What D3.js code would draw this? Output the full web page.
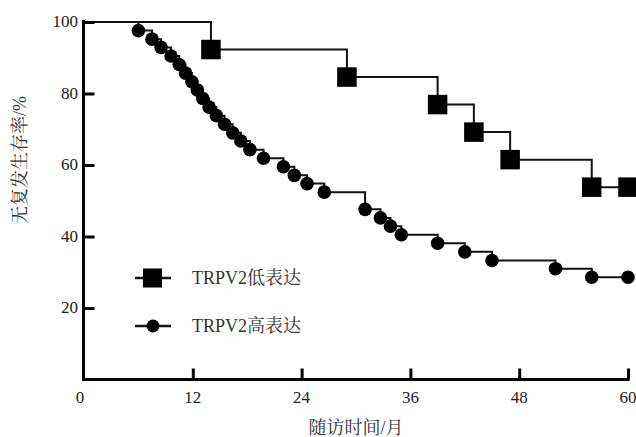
<!DOCTYPE html>
<html>
<head>
<meta charset="utf-8">
<title></title>
<script src="https://d3js.org/d3.v7.min.js"></script>
<style>
    body{
        margin:0;
        background:#fff;
    }
    svg{
        display:block;
    }
    .lbl{
        font-family:"Liberation Serif","Noto Serif CJK SC","Noto Sans CJK SC",serif;
        fill:#222;
    }
    .cjk{
        fill:#333;
    }
</style>
</head>
<body>
<script>
// follow-up months / survival (%)
var lowTimes = [14, 29, 39, 43, 47, 56];
var lowSurv  = [92.3, 84.6, 76.9, 69.2, 61.5, 53.8];

var highTimes = [6, 7.5, 8.5, 9.6, 10.5, 11.2, 11.9, 12.5, 13.1, 13.8, 14.6, 15.5, 16.4, 17.3, 18.3,
                 19.8, 22.0, 23.2, 24.6, 26.5, 31.0, 32.7, 33.8, 35.0, 39.0, 42.0, 45.0, 52.0, 56.0];
var highSurv  = [97.6, 95.2, 92.9, 90.5, 88.1, 85.7, 83.3, 81.0, 78.6, 76.2, 73.8, 71.4, 69.0, 66.7, 64.3,
                 61.9, 59.5, 57.1, 54.8, 52.4, 47.6, 45.2, 42.9, 40.5, 38.1, 35.7, 33.3, 31.0, 28.6];

var endTime = 60;
var xTicks = [0, 12, 24, 36, 48, 60];
var yTicks = [20, 40, 60, 80, 100];
var seriesNames = ["TRPV2低表达", "TRPV2高表达"];

var W = 636, H = 437;
var svg = d3.select("body").append("svg")
    .attr("width", W)
    .attr("height", H);

var x = d3.scaleLinear().domain([0, 60]).range([84, 628]);
var y = d3.scaleLinear().domain([0, 100]).range([379.5, 22]);

function curve(times, surv){
    var pts = [[0, 100]];
    for (var i = 0; i < times.length; i++) pts.push([times[i], surv[i]]);
    pts.push([endTime, surv[surv.length - 1]]);
    return pts;
}
var lowPts = curve(lowTimes, lowSurv);
var highPts = curve(highTimes, highSurv);

var line = d3.line()
    .x(function(d){ return x(d[0]); })
    .y(function(d){ return y(d[1]); })
    .curve(d3.curveStepAfter);

// step lines
svg.append("path").attr("d", line(lowPts))
    .attr("fill", "none").attr("stroke", "#111").attr("stroke-width", 2);
svg.append("path").attr("d", line(highPts))
    .attr("fill", "none").attr("stroke", "#111").attr("stroke-width", 2);

// markers
var sq = 19.5;
svg.selectAll(".sq").data(lowPts.slice(1))
    .enter().append("rect")
    .attr("x", function(d){ return x(d[0]) - sq/2; })
    .attr("y", function(d){ return y(d[1]) - sq/2; })
    .attr("width", sq).attr("height", sq)
    .attr("fill", "#000");

svg.selectAll(".dot").data(highPts.slice(1))
    .enter().append("circle")
    .attr("cx", function(d){ return x(d[0]); })
    .attr("cy", function(d){ return y(d[1]); })
    .attr("r", 6.8)
    .attr("fill", "#000");

// axes
var yAxis = d3.axisRight(y).tickValues(yTicks).tickSize(11).tickFormat("");
var gy = svg.append("g").attr("transform", "translate(83.5,0)").call(yAxis);
var xAxis = d3.axisTop(x).tickValues(xTicks.slice(1)).tickSize(11).tickFormat("");
var gx = svg.append("g").attr("transform", "translate(0,379.5)").call(xAxis);
[gy, gx].forEach(function(g){
    g.select(".domain").remove();
    g.selectAll("line").attr("stroke", "#000").attr("stroke-width", 3);
});
svg.append("line").attr("x1", 83.5).attr("x2", 83.5).attr("y1", 20).attr("y2", 381)
    .attr("stroke", "#000").attr("stroke-width", 3);
svg.append("line").attr("x1", 82).attr("x2", 629.5).attr("y1", 379.5).attr("y2", 379.5)
    .attr("stroke", "#000").attr("stroke-width", 3);

// tick labels
svg.selectAll(".yl").data(yTicks).enter().append("text")
    .attr("class", "lbl")
    .attr("x", 78).attr("y", function(d){ return y(d) + 5; })
    .attr("text-anchor", "end")
    .attr("font-size", 17)
    .text(function(d){ return d; });
svg.selectAll(".xl").data(xTicks).enter().append("text")
    .attr("class", "lbl")
    .attr("x", function(d){ return x(d) - (d === 0 ? 4 : 0); })
    .attr("y", 403)
    .attr("text-anchor", "middle")
    .attr("font-size", 17)
    .text(function(d){ return d; });

// axis titles
svg.append("text").attr("class", "lbl cjk")
    .attr("transform", "translate(26,160) rotate(-90)")
    .attr("text-anchor", "middle")
    .attr("font-size", 18)
    .text("无复发生存率/%");
svg.append("text").attr("class", "lbl cjk")
    .attr("x", 356).attr("y", 434)
    .attr("text-anchor", "middle")
    .attr("font-size", 18)
    .text("随访时间/月");

// legend
var leg = svg.append("g");
var legY = [278, 326];
legY.forEach(function(ly, i){
    leg.append("line").attr("x1", 135).attr("x2", 171).attr("y1", ly).attr("y2", ly)
        .attr("stroke", "#111").attr("stroke-width", 2.5);
    if (i === 0) {
        leg.append("rect").attr("x", 143).attr("y", ly - 9.5).attr("width", 19).attr("height", 19).attr("fill", "#000");
    } else {
        leg.append("circle").attr("cx", 153).attr("cy", ly).attr("r", 6.5).attr("fill", "#000");
    }
    leg.append("text").attr("class", "lbl cjk")
        .attr("x", 192).attr("y", ly + 6)
        .attr("font-size", 18)
        .text(seriesNames[i]);
});
</script>
</body>
</html>
